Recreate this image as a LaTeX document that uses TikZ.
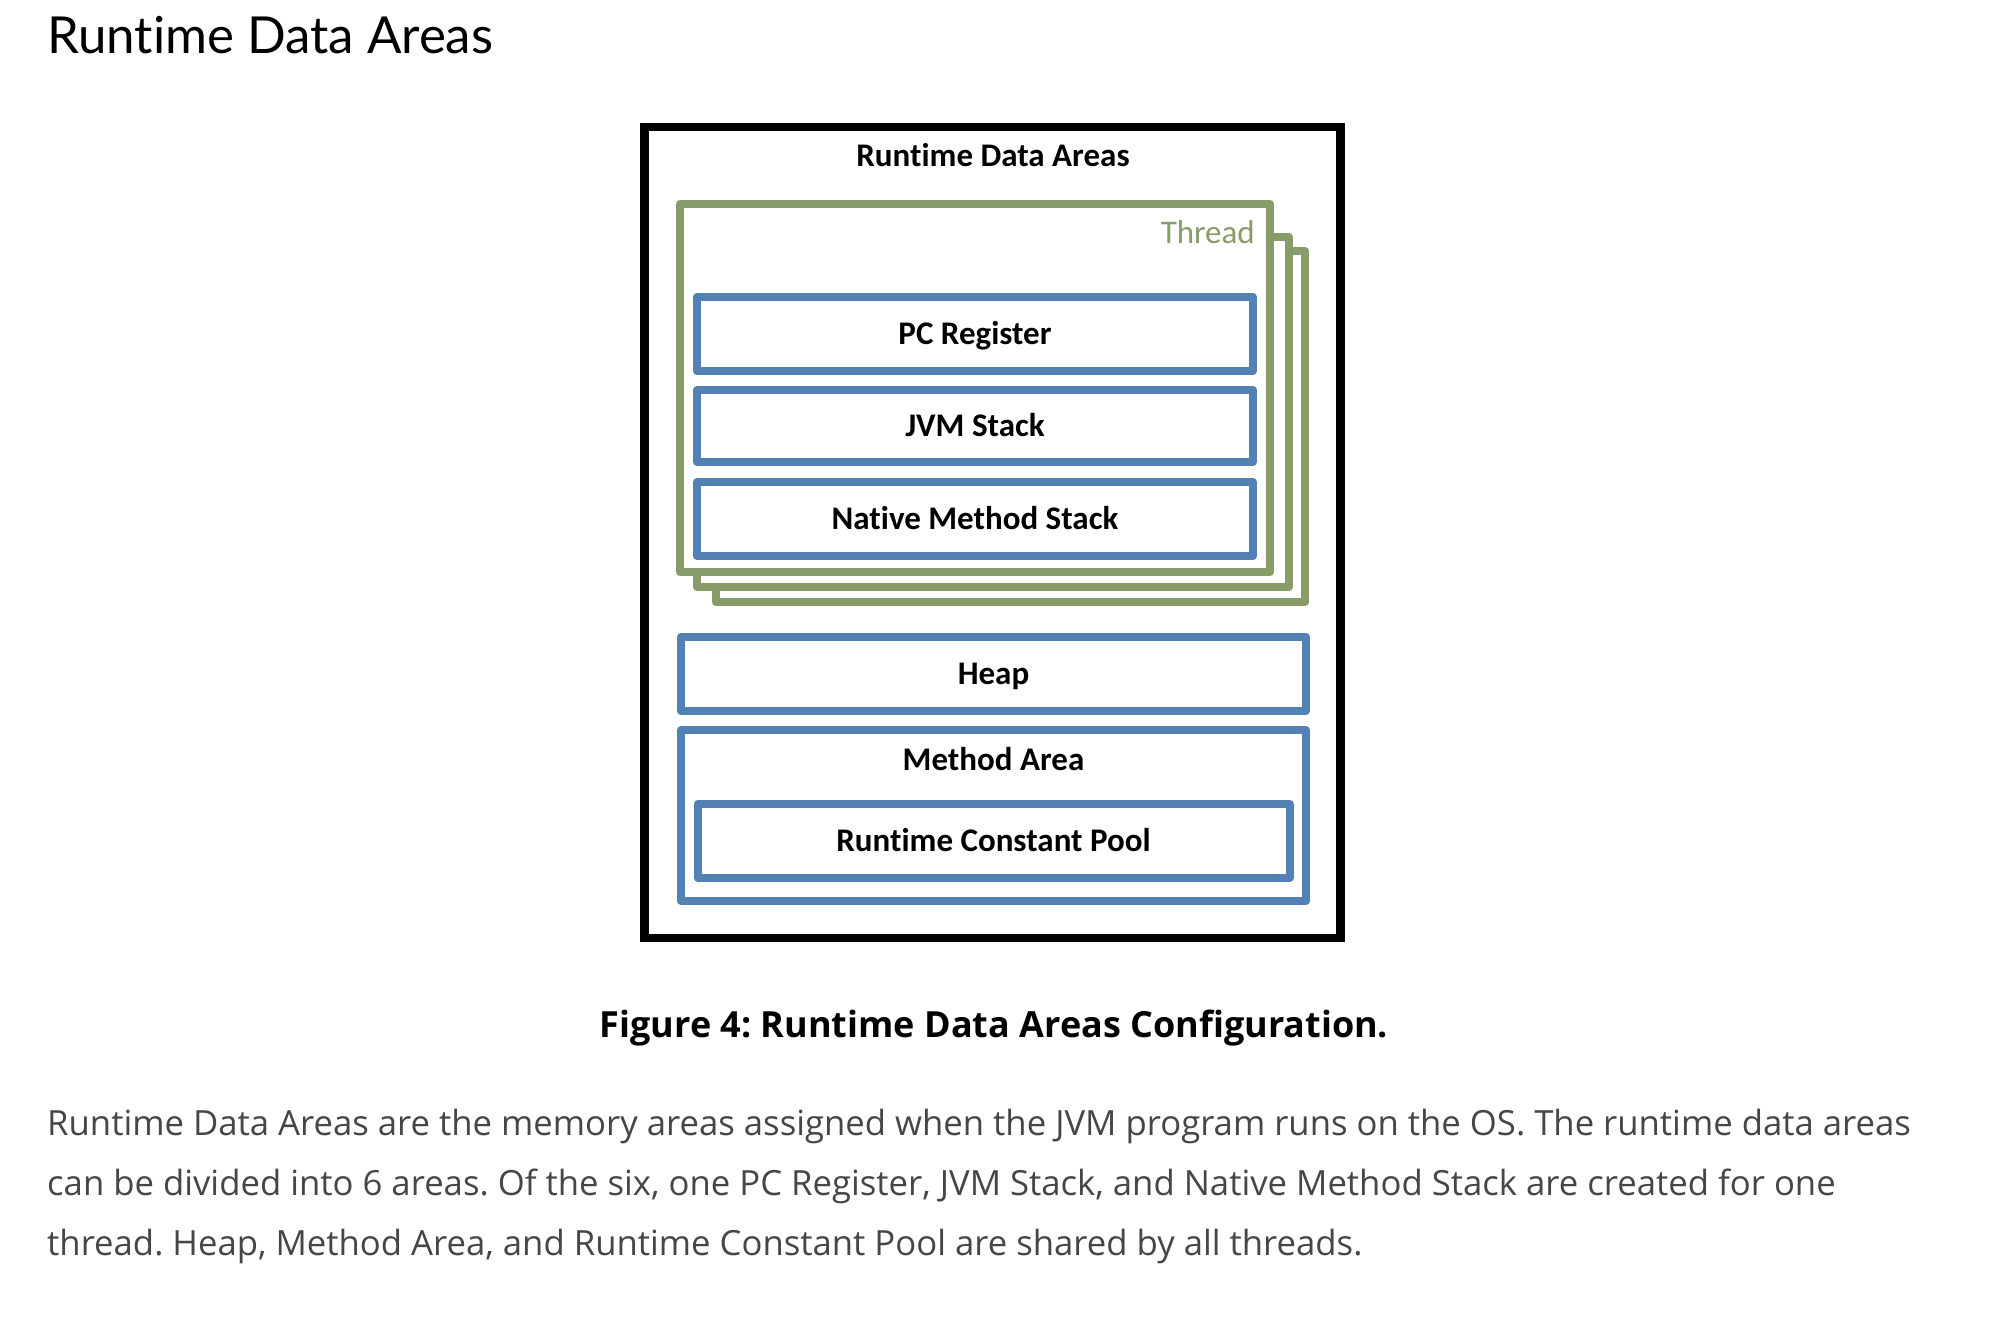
\documentclass[tikz,border=0pt]{standalone}
\usepackage{fontspec}
\usetikzlibrary{positioning}
\newfontfamily\boxfont{Carlito}[Ligatures=NoCommon]
\newfontfamily\headfont{Lato}[Ligatures=NoCommon]
\newfontfamily\bodyfont{Open Sans}[Ligatures=NoCommon]
\definecolor{areablue}{RGB}{84,129,180}
\definecolor{threadgreen}{RGB}{136,156,106}
\definecolor{bodygray}{RGB}{70,70,70}
\frenchspacing

\tikzset{
  area/.style={draw=areablue, line width=8pt, line join=round, fill=white,
    outer sep=0pt, inner sep=0pt, minimum height=74pt,
    text height=21.3pt, text depth=0pt,
    font=\boxfont\bfseries\fontsize{33}{40}\selectfont},
  threadbox/.style={draw=threadgreen, line width=8pt, line join=round,
    fill=white, outer sep=0pt, inner sep=0pt},
  bodyline/.style={anchor=base west, inner sep=0pt, text=bodygray,
    font=\bodyfont\fontsize{34.7}{42}\selectfont},
}

\begin{document}
\begin{tikzpicture}[x=1pt, y=-1pt, node distance=19pt]
  \useasboundingbox[fill=white] (0,0) rectangle (2002,1338);

  \node[anchor=base west, inner sep=0pt,
    font=\headfont\fontsize{51}{60}\selectfont] (title) at (47,53) {Runtime Data Areas};

  % outer box
  \node[draw, line width=8.5pt, outer sep=0pt, inner sep=0pt, minimum width=696pt,
    minimum height=811pt, anchor=north west] (rda) at (644.5,127) {};
  \node[anchor=base, inner sep=0pt, font=\boxfont\bfseries\fontsize{33}{40}\selectfont]
    (rdalabel) at (993,166) {Runtime Data Areas};

  % thread stack, back to front
  \node[threadbox, minimum width=589pt, minimum height=351pt, anchor=north west] (thread3) at (716,251) {};
  \node[threadbox, minimum width=592pt, minimum height=350pt, anchor=north west] (thread2) at (697,237) {};
  \node[threadbox, minimum width=590pt, minimum height=368pt, anchor=north west] (thread) at (680,204) {};
  \node[anchor=base east, inner sep=0pt, text=threadgreen,
    font=\boxfont\fontsize{33}{40}\selectfont] (threadlabel) at (1255,243) {Thread};

  \node[area, minimum width=556pt, anchor=north west] (pc) at (697,297) {PC Register};
  \node[area, minimum width=556pt, minimum height=72pt, below=of pc] (jvm) {JVM Stack};
  \node[area, minimum width=556pt, below=20pt of jvm] (nms) {Native Method Stack};

  % shared areas
  \node[area, minimum width=625pt, anchor=north west] (heap) at (681,637) {Heap};
  \node[area, minimum width=625pt, minimum height=171pt, below=of heap] (method) {};
  \node[anchor=base, inner sep=0pt, font=\boxfont\bfseries\fontsize{33}{40}\selectfont]
    (methodlabel) at (993.5,770) {Method Area};
  \node[area, minimum width=592pt, above=23pt of method.south] (rcp) {Runtime Constant Pool};

  \node[anchor=base, inner sep=0pt, font=\bodyfont\bfseries\fontsize{36}{42}\selectfont]
    (caption) at (994,1037) {Figure 4: Runtime Data Areas Configuration.};

  \node[bodyline] (para1) at (47,1135) {Runtime Data Areas are the memory areas assigned when the JVM program runs on the OS. The runtime data areas};
  \node[bodyline] (para2) at (47,1195) {can be divided into 6 areas. Of the six, one PC Register, JVM Stack, and Native Method Stack are created for one};
  \node[bodyline] (para3) at (47,1255) {thread. Heap, Method Area, and Runtime Constant Pool are shared by all threads.};
\end{tikzpicture}
\end{document}
